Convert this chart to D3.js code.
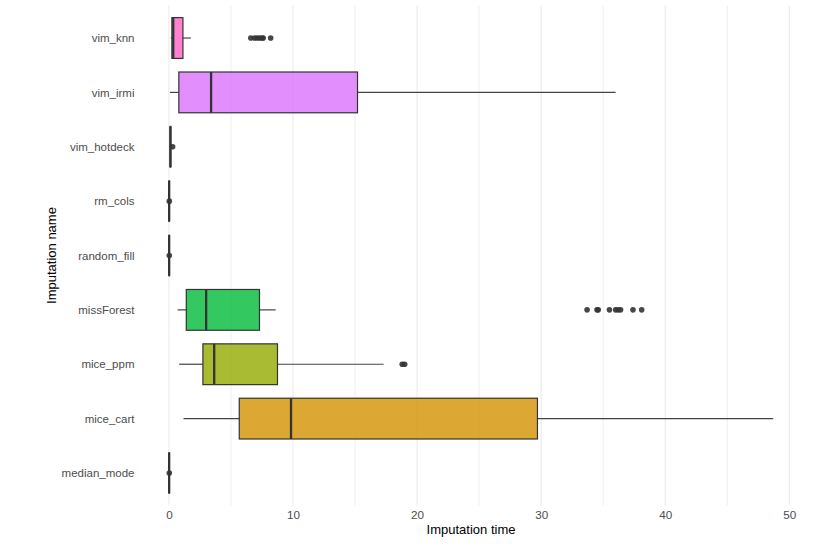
<!DOCTYPE html>
<html>
<head>
<meta charset="utf-8">
<script src="https://cdn.jsdelivr.net/npm/d3@7"></script>
<style>
  html, body { margin: 0; padding: 0; background: #fff; }
  svg { display: block; }
  text { font-family: "Liberation Sans", Arial, Helvetica, sans-serif; }
</style>
</head>
<body>
<svg id="chart" width="822" height="549"></svg>
<script>
const categories = ["vim_knn","vim_irmi","vim_hotdeck","rm_cols","random_fill","missForest","mice_ppm","mice_cart","median_mode"];
const whiskerLow  = [0.15, 0.08, 0.08, 0.01, 0.01, 0.7, 0.83, 1.18, 0.01];
const q1          = [0.24, 0.8, 0.10, 0.02, 0.02, 1.4, 2.74, 5.67, 0.02];
const median      = [0.35, 3.4, 0.12, 0.02, 0.02, 3.0, 3.65, 9.84, 0.02];
const q3          = [1.13, 15.2, 0.15, 0.03, 0.03, 7.3, 8.75, 29.7, 0.03];
const whiskerHigh = [1.77, 36.0, 0.17, 0.04, 0.04, 8.6, 17.3, 48.7, 0.04];
const outliers = [
  [6.6, 6.9, 7.1, 7.3, 7.5, 7.6, 8.2],
  [],
  [0.3],
  [0.03],
  [0.03],
  [33.7, 34.5, 34.6, 35.5, 36.0, 36.2, 36.4, 37.4, 38.1],
  [18.8, 19.0],
  [],
  [0.03]
];
const colors = ["#FF61C3","#DB72FB","#619CFF","#00B9E3","#00C19F","#00BA38","#93AA00","#D39200","#F8766D"];
const xTicks = [0, 10, 20, 30, 40, 50];
const xMinor = [5, 15, 25, 35, 45];

const svg = d3.select("#chart");
const panel = {left: 139, right: 803, top: 5.4, bottom: 505.6};

const x = d3.scaleLinear().domain([-2.41, 51.1]).range([panel.left, panel.right]);
const y = d3.scalePoint().domain(categories).range([panel.top, panel.bottom]).padding(0.6);
const step = y.step();
const boxH = step * 0.75;

// grid
const grid = svg.append("g");
grid.selectAll("line.minor").data(xMinor).join("line")
  .attr("x1", d => x(d)).attr("x2", d => x(d))
  .attr("y1", panel.top).attr("y2", panel.bottom)
  .attr("stroke", "#ebebeb").attr("stroke-width", 0.8);
grid.selectAll("line.major").data(xTicks).join("line")
  .attr("x1", d => x(d)).attr("x2", d => x(d))
  .attr("y1", panel.top).attr("y2", panel.bottom)
  .attr("stroke", "#ebebeb").attr("stroke-width", 1.1);

const rows = categories.map((c, i) => ({
  c, lo: whiskerLow[i], q1: q1[i], med: median[i], q3: q3[i], hi: whiskerHigh[i], out: outliers[i], col: colors[i]
}));

const g = svg.append("g");
const row = g.selectAll("g.row").data(rows).join("g");

// whiskers
row.append("line")
  .attr("x1", d => x(d.lo)).attr("x2", d => x(d.q1))
  .attr("y1", d => y(d.c)).attr("y2", d => y(d.c))
  .attr("stroke", "#444").attr("stroke-width", 1.2);
row.append("line")
  .attr("x1", d => x(d.q3)).attr("x2", d => x(d.hi))
  .attr("y1", d => y(d.c)).attr("y2", d => y(d.c))
  .attr("stroke", "#444").attr("stroke-width", 1.2);
// box
row.append("rect")
  .attr("x", d => x(d.q1)).attr("width", d => Math.max(0, x(d.q3) - x(d.q1)))
  .attr("y", d => y(d.c) - boxH / 2).attr("height", boxH)
  .attr("fill", d => d.col).attr("fill-opacity", 0.8)
  .attr("stroke", "#333").attr("stroke-width", 1.2);
// median
row.append("line")
  .attr("x1", d => x(d.med)).attr("x2", d => x(d.med))
  .attr("y1", d => y(d.c) - boxH / 2).attr("y2", d => y(d.c) + boxH / 2)
  .attr("stroke", "#333").attr("stroke-width", 2.3);
// outliers
row.selectAll("circle").data(d => d.out.map(v => ({v, c: d.c}))).join("circle")
  .attr("cx", d => x(d.v)).attr("cy", d => y(d.c)).attr("r", 2.8)
  .attr("fill", "#333").attr("fill-opacity", 0.9);

// axes
const xAxis = d3.axisBottom(x).tickValues(xTicks).tickSize(0).tickPadding(0);
const xa = svg.append("g").attr("transform", `translate(0,${panel.bottom})`).call(xAxis);
xa.select(".domain").remove();
xa.selectAll("text").attr("fill", "#4d4d4d").attr("font-size", 11.7).attr("dy", null).attr("y", 13);

const yAxis = d3.axisLeft(y).tickSize(0).tickPadding(0);
const ya = svg.append("g").attr("transform", `translate(${panel.left - 4.5},0)`).call(yAxis);
ya.select(".domain").remove();
ya.selectAll("text").attr("fill", "#4d4d4d").attr("font-size", 11.5).attr("x", 0);

svg.append("text").attr("x", (panel.left + panel.right) / 2).attr("y", 534)
  .attr("text-anchor", "middle").attr("font-size", 13).attr("fill", "#000")
  .text("Imputation time");
svg.append("text").attr("transform", `translate(56,${(panel.top + panel.bottom) / 2}) rotate(-90)`)
  .attr("text-anchor", "middle").attr("font-size", 13).attr("fill", "#000")
  .text("Imputation name");
</script>
</body>
</html>
